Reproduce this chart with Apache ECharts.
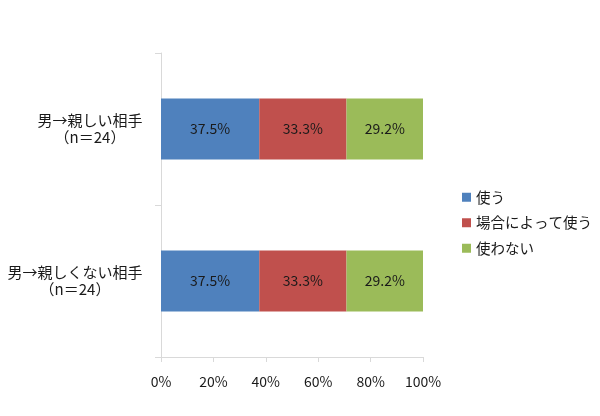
<!DOCTYPE html>
<html>
<head>
<meta charset="utf-8">
<script src="https://cdn.jsdelivr.net/npm/echarts@6/dist/echarts.min.js"></script>
<style>
  html, body { margin: 0; padding: 0; background: #fff; }
  #chart { width: 600px; height: 416px; }
</style>
</head>
<body>
<div id="chart"></div>
<script>
const categories = ['男→親しい相手\n（n＝24）', '男→親しくない相手\n（n＝24）']
const seriesNames = ['使う', '場合によって使う', '使わない']
const useValues = [37.5, 37.5]
const sometimesValues = [33.3, 33.3]
const notUseValues = [29.2, 29.2]
const xTicks = [0, 20, 40, 60, 80, 100]

const colors = ['#4F81BD', '#C0504D', '#9BBB59']
const font = '"Noto Sans CJK JP", sans-serif'
const axisColor = '#D9D9D9'
const textColor = '#1a1a1a'
const catFontSize = 15

// each category label is a right-aligned block whose lines are centred on each other
let ctx = document.createElement('canvas').getContext('2d')
ctx.font = catFontSize + 'px ' + font
let rich = {}
categories.forEach((c, i) => {
  let w = Math.max(...c.split('\n').map((s) => ctx.measureText(s).width))
  rich['c' + i] = {
    width: Math.ceil(w),
    align: 'center',
    fontSize: catFontSize,
    lineHeight: 17,
    color: textColor,
    fontFamily: font,
  }
})

let myChart = echarts.init(document.getElementById('chart'))

function makeSeries(name, data, color) {
  return {
    name: name,
    type: 'bar',
    stack: 'total',
    data: data,
    barCategoryGap: '60%',
    itemStyle: { color: color },
    label: {
      show: true,
      position: 'inside',
      formatter: (p) => p.value.toFixed(1) + '%',
      color: textColor,
      fontSize: 14,
      fontFamily: font,
    },
  }
}

myChart.setOption({
  animation: false,
  textStyle: { fontFamily: font },
  grid: {
    left: 161,
    right: 177,
    top: 53,
    bottom: 59,
  },
  legend: {
    orient: 'vertical',
    left: 457,
    top: 185,
    itemWidth: 9,
    itemHeight: 9,
    itemGap: 11,
    icon: 'rect',
    textStyle: { fontSize: 14.5, color: textColor, fontFamily: font },
    data: seriesNames,
  },
  xAxis: {
    type: 'value',
    min: xTicks[0],
    max: xTicks[xTicks.length - 1],
    interval: 20,
    axisLine: { show: true, lineStyle: { color: axisColor } },
    axisTick: { show: true, length: 5, lineStyle: { color: axisColor } },
    splitLine: { show: false },
    axisLabel: {
      formatter: '{value}%',
      color: textColor,
      fontSize: 14,
      margin: 18,
      fontFamily: font,
    },
  },
  yAxis: {
    type: 'category',
    inverse: true,
    data: categories,
    axisLine: { show: true, lineStyle: { color: axisColor } },
    axisTick: { show: true, length: 6, lineStyle: { color: axisColor } },
    axisLabel: {
      align: 'right',
      margin: 18,
      formatter: (v, i) => v.split('\n').map((s) => '{c' + i + '|' + s + '}').join('\n'),
      rich: rich,
    },
  },
  series: [
    makeSeries(seriesNames[0], useValues, colors[0]),
    makeSeries(seriesNames[1], sometimesValues, colors[1]),
    makeSeries(seriesNames[2], notUseValues, colors[2]),
  ],
})
</script>
</body>
</html>
